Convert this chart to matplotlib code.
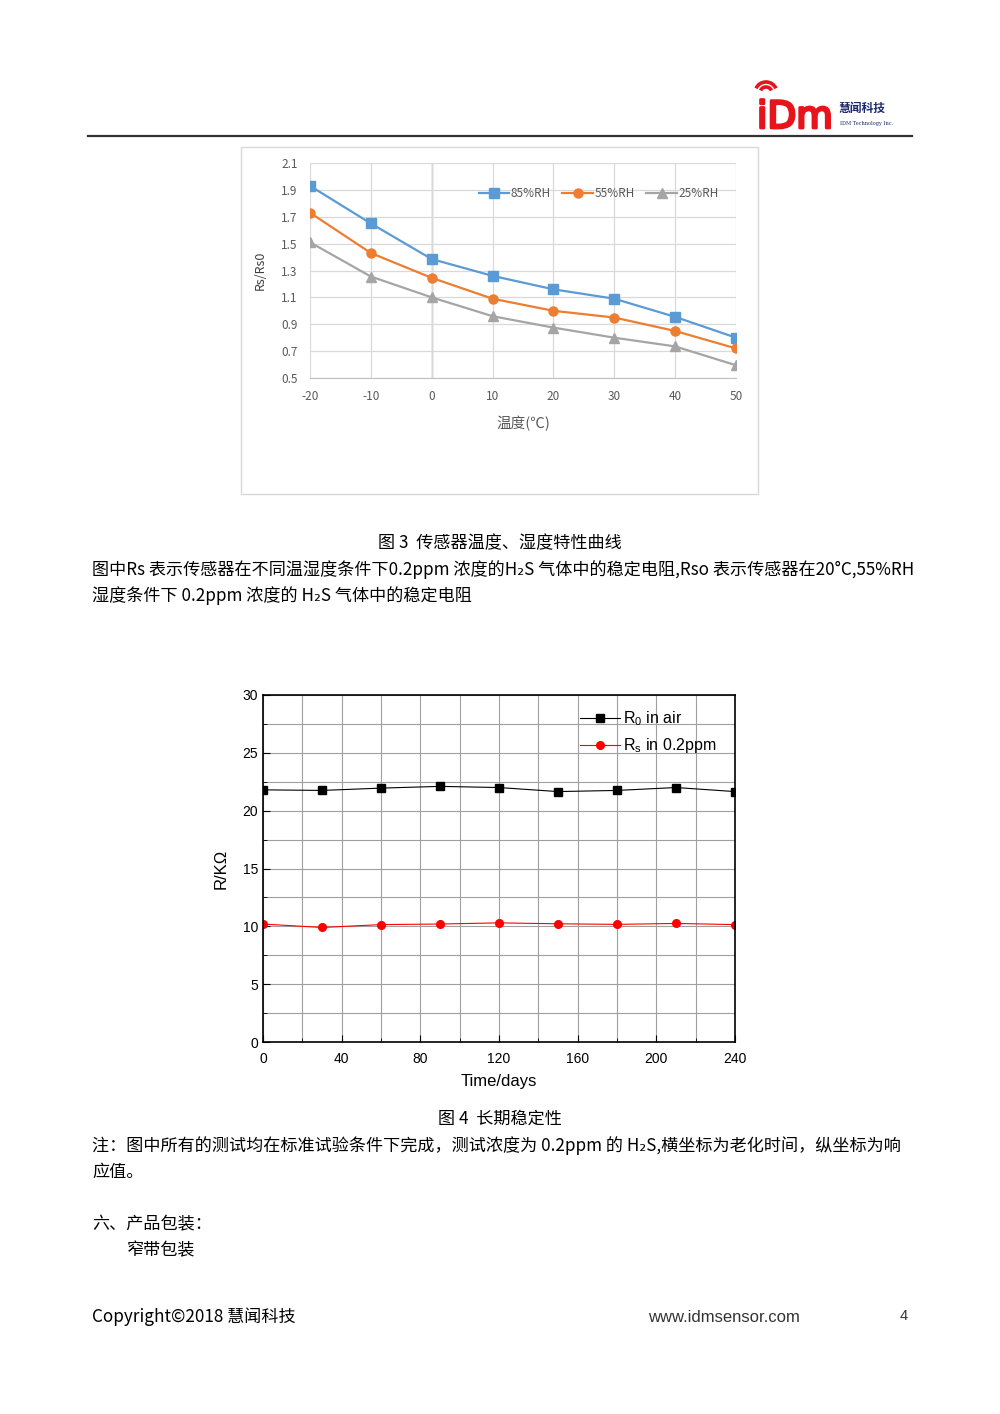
import matplotlib
matplotlib.use("Agg")
import matplotlib.pyplot as plt
import matplotlib.patheffects as pe
from matplotlib.patches import Arc, Rectangle
from matplotlib.ticker import MultipleLocator

plt.rcParams["font.family"] = ["Noto Sans CJK SC", "DejaVu Sans"]
plt.rcParams["axes.unicode_minus"] = False

# 图3：温湿度特性
temps = [-20, -10, 0, 10, 20, 30, 40, 50]
rh85 = [1.93, 1.65, 1.385, 1.26, 1.16, 1.09, 0.955, 0.80]
rh55 = [1.73, 1.43, 1.245, 1.09, 1.00, 0.95, 0.85, 0.72]
rh25 = [1.51, 1.255, 1.10, 0.96, 0.875, 0.80, 0.735, 0.595]
rh_labels = ["85%RH", "55%RH", "25%RH"]

# 图4：长期稳定性
days = [0, 30, 60, 90, 120, 150, 180, 210, 240]
r0_air = [21.8, 21.75, 21.95, 22.1, 22.0, 21.65, 21.75, 22.0, 21.65]
rs_gas = [10.2, 9.9, 10.15, 10.2, 10.3, 10.22, 10.17, 10.25, 10.15]
stab_labels = [r"R$_{\mathregular{0}}$ in air", r"R$_{\mathregular{s}}$ in 0.2ppm"]

W, H = 1000, 1414
BODY = 12.3
fig = plt.figure(figsize=(W / 100, H / 100), dpi=100)

# 整页叠加层，用像素坐标排版
page = fig.add_axes([0, 0, 1, 1], zorder=-1)
page.set_xlim(0, W)
page.set_ylim(H, 0)
page.axis("off")


def fx(px):
    return px / W


def fy(py):
    return 1 - py / H


# ---- 页眉 ----
page.plot([88, 912], [136, 136], color="#333333", lw=1.6)
page.text(757, 128, "iDm", color="#e8141b", fontsize=27,
          family="DejaVu Sans", va="baseline", ha="left",
          path_effects=[pe.withStroke(linewidth=2, foreground="#e8141b")])
for r in (6, 11):
    page.add_patch(Arc((766, 93), 2 * r, 2 * r, theta1=205, theta2=335,
                       color="#e8141b", lw=2.6))
page.text(838, 108, "慧闻科技", fontsize=8.5, fontweight="bold", color="#1c2a6b",
          va="center", ha="left")
page.text(840, 123, "IDM Technology Inc.", fontsize=3.6, color="#1c2a6b",
          family="DejaVu Serif", va="center", ha="left")

# ---- 图3 ----
page.add_patch(Rectangle((241, 147), 517, 347, fill=False, ec="#d9d9d9", lw=1))
ax1 = fig.add_axes([fx(310), fy(378), fx(736 - 310), (378 - 163) / H])
ax1.plot(temps, rh85, color="#5b9bd5", lw=1.6, marker="s", ms=6.5, label=rh_labels[0])
ax1.plot(temps, rh55, color="#ed7d31", lw=1.6, marker="o", ms=6.5, label=rh_labels[1])
ax1.plot(temps, rh25, color="#a5a5a5", lw=1.6, marker="^", ms=6.5, label=rh_labels[2])
ax1.set_xlim(-20, 50)
ax1.set_ylim(0.5, 2.1)
ax1.set_xticks(temps)
ax1.set_yticks([0.5, 0.7, 0.9, 1.1, 1.3, 1.5, 1.7, 1.9, 2.1])
ax1.yaxis.set_major_formatter(lambda v, p: f"{v:.1f}")
ax1.grid(color="#d9d9d9", lw=0.9)
ax1.axvline(0, color="#a6a6a6", lw=1, zorder=1)
for s in ("top", "right", "left"):
    ax1.spines[s].set_visible(False)
ax1.spines["bottom"].set_color("#bfbfbf")
ax1.tick_params(length=0, labelsize=8.5, labelcolor="#595959")
ax1.tick_params(axis="x", pad=9)
ax1.tick_params(axis="y", pad=9)
ax1.set_xlabel("温度(℃)", fontsize=10.5, color="#595959", labelpad=9)
ax1.set_ylabel("Rs/Rs0", fontsize=9, color="#404040", labelpad=10)
ax1.legend(ncol=3, loc="upper right", bbox_to_anchor=(0.97, 0.91), frameon=False,
           fontsize=8.5, labelcolor="#595959", handlelength=2.6, handletextpad=0.1,
           columnspacing=1.0, borderaxespad=0)

page.text(500, 543, "图 3  传感器温度、湿度特性曲线", fontsize=BODY, ha="center", va="center")
page.text(92, 570, "图中Rs 表示传感器在不同温湿度条件下0.2ppm 浓度的H₂S 气体中的稳定电阻,Rso 表示传感器在20°C,55%RH",
          fontsize=BODY, ha="left", va="center")
page.text(92, 596, "湿度条件下 0.2ppm 浓度的 H₂S 气体中的稳定电阻", fontsize=BODY, ha="left", va="center")

# ---- 图4 ----
ax2 = fig.add_axes([fx(263), fy(1042), fx(735 - 263), (1042 - 695) / H])
ax2.plot(days, r0_air, color="black", lw=0.8, marker="s", ms=5.5, label=stab_labels[0])
ax2.plot(days, rs_gas, color="red", lw=0.8, marker="o", ms=5.5, label=stab_labels[1])
ax2.set_xlim(0, 240)
ax2.set_ylim(0, 30)
ax2.xaxis.set_major_locator(MultipleLocator(40))
ax2.xaxis.set_minor_locator(MultipleLocator(20))
ax2.yaxis.set_major_locator(MultipleLocator(5))
ax2.yaxis.set_minor_locator(MultipleLocator(2.5))
ax2.grid(which="both", color="#a0a0a0", lw=0.8)
for s in ax2.spines.values():
    s.set_linewidth(1.2)
ax2.tick_params(which="both", direction="in", labelsize=10, top=False, right=False)
ax2.tick_params(which="major", length=5)
ax2.tick_params(which="minor", length=3)
ax2.tick_params(axis="x", pad=7)
for lab in ax2.get_xticklabels() + ax2.get_yticklabels():
    lab.set_family("Liberation Sans")
ax2.set_xlabel("Time/days", fontsize=12, family="Liberation Sans", labelpad=6)
ax2.set_ylabel("R/KΩ", fontsize=12, family="Liberation Sans", labelpad=10)
ax2.legend(loc="upper right", bbox_to_anchor=(0.985, 0.99), frameon=False,
           prop={"family": "Liberation Sans", "size": 11.5},
           handlelength=2.5, handletextpad=0.2, labelspacing=0.5, borderaxespad=0.3)

page.text(500, 1119, "图 4  长期稳定性", fontsize=BODY, ha="center", va="center")
page.text(92, 1146, "注：图中所有的测试均在标准试验条件下完成，测试浓度为 0.2ppm 的 H₂S,横坐标为老化时间，纵坐标为响",
          fontsize=BODY, ha="left", va="center")
page.text(92, 1172, "应值。", fontsize=BODY, ha="left", va="center")
page.text(92, 1224, "六、产品包装：", fontsize=BODY, ha="left", va="center")
page.text(127, 1250, "窄带包装", fontsize=BODY, ha="left", va="center")

# ---- 页脚 ----
page.text(92, 1317, "Copyright©2018 慧闻科技", fontsize=BODY, ha="left", va="center")
page.text(648, 1318, "www.idmsensor.com", fontsize=12, family="Liberation Sans",
          ha="left", va="center", color="#333333")
page.text(908, 1316, "4", fontsize=10.5, family="Liberation Sans", ha="right", va="center",
          color="#333333")

fig.savefig("out.png", dpi=100)
